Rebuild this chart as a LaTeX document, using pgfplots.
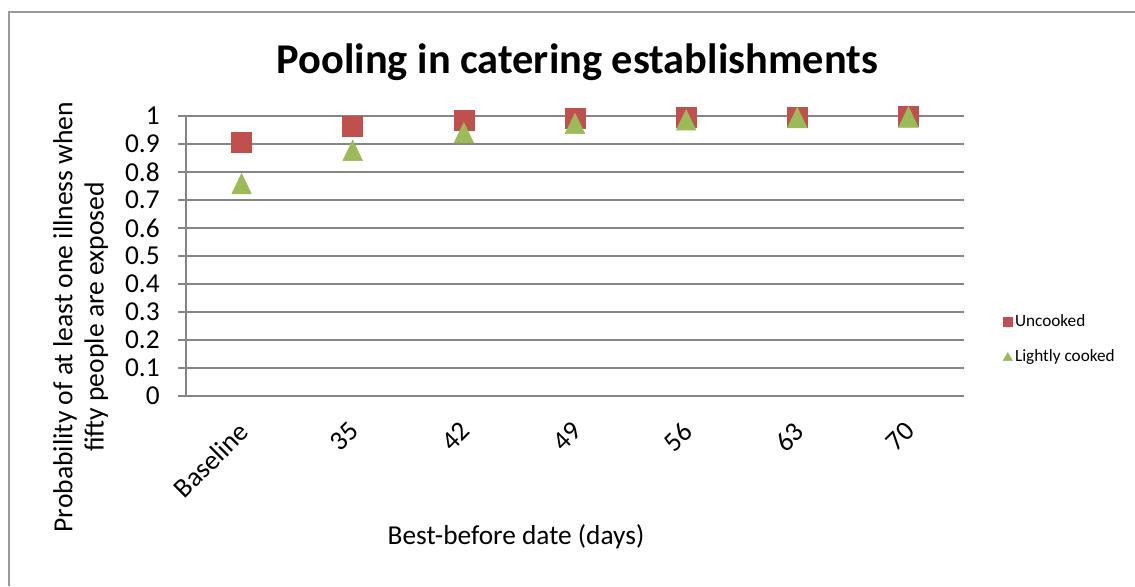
\documentclass[border=0pt]{standalone}
\usepackage{pgfplots}
\pgfplotsset{compat=1.18}
\usepackage{fontspec}
\setmainfont{Carlito}
\definecolor{exred}{HTML}{C0504D}
\definecolor{exgreen}{HTML}{9BBB59}
\definecolor{gridgray}{HTML}{868686}
\pgfplotsset{
  sqleg/.style={legend image code/.code={\draw[##1, mark size=3.4pt] plot coordinates {(0.15cm,0cm)};}},
  trleg/.style={legend image code/.code={\draw[##1, mark size=4pt, mark options={yshift=-1pt}] plot coordinates {(0.15cm,0cm)};}},
}
\begin{document}
\begin{tikzpicture}
\useasboundingbox (0,0) rectangle (851.25pt,439.5pt);
\draw[gray!80, line width=0.8pt] (6.75pt,0) -- (6.75pt,430.5pt) -- (851.25pt,430.5pt);
\begin{axis}[
  at={(139.5pt,142.5pt)}, anchor=south west,
  scale only axis, width=583.5pt, height=210pt,
  xmin=-0.5, xmax=6.5, ymin=0, ymax=1,
  axis x line*=bottom, axis y line*=left,
  axis line style={gridgray, line width=0.9pt},
  xtick={0,1,2,3,4,5,6},
  xticklabels={Baseline,35,42,49,56,63,70},
  x tick style={draw=none},
  extra x ticks={-0.5,0.5,1.5,2.5,3.5,4.5,5.5,6.5},
  extra x tick labels={},
  extra x tick style={tick style={draw=gridgray, line width=0.9pt}, major tick length=6pt, tick align=outside, grid=none},
  ytick={0,0.1,0.2,0.3,0.4,0.5,0.6,0.7,0.8,0.9,1},
  yticklabels={0,0.1,0.2,0.3,0.4,0.5,0.6,0.7,0.8,0.9,1},
  y tick style={draw=gridgray, line width=0.9pt},
  tick align=outside, major tick length=6pt,
  ymajorgrids, major grid style={gridgray, line width=0.9pt},
  tick label style={font=\fontsize{20.5}{23}\selectfont},
  yticklabel style={anchor=east, inner sep=0pt, xshift=-13.5pt},
  xticklabel style={xshift=-3.5pt, yshift=-12pt, rotate=45, anchor=north east, inner sep=0pt},
  legend style={at={(1.05,0.2036)}, anchor=west, draw=none, fill=none,
    font=\fontsize{12.9}{14}\selectfont, row sep=12pt,
    inner sep=0pt},
  legend cell align=left,
  clip=false,
]
\addplot[only marks, mark=square*, mark size=7.5pt, exred, sqleg]
  coordinates {(0,0.907) (1,0.962) (2,0.985) (3,0.992) (4,0.994) (5,0.996) (6,0.998)};
\addlegendentry{Uncooked}
\addplot[only marks, mark=triangle*, mark size=8.5pt, exgreen,
  mark options={yshift=-2.5pt, yscale=1.2}, trleg]
  coordinates {(0,0.758) (1,0.877) (2,0.940) (3,0.973) (4,0.986) (5,0.994) (6,0.996)};
\addlegendentry{Lightly cooked}
\end{axis}
\node[font=\bfseries\fontsize{31.8}{36}\selectfont] at (433pt,393pt) {Pooling in catering establishments};
\node[font=\fontsize{20.5}{23}\selectfont] at (387pt,36.75pt) {Best-before date (days)};
\node[rotate=90, align=center, font=\fontsize{20.7}{23.5}\selectfont] at (60.5pt,201.75pt) {Probability of at least one illness when\\fifty people are exposed};
\end{tikzpicture}
\end{document}
